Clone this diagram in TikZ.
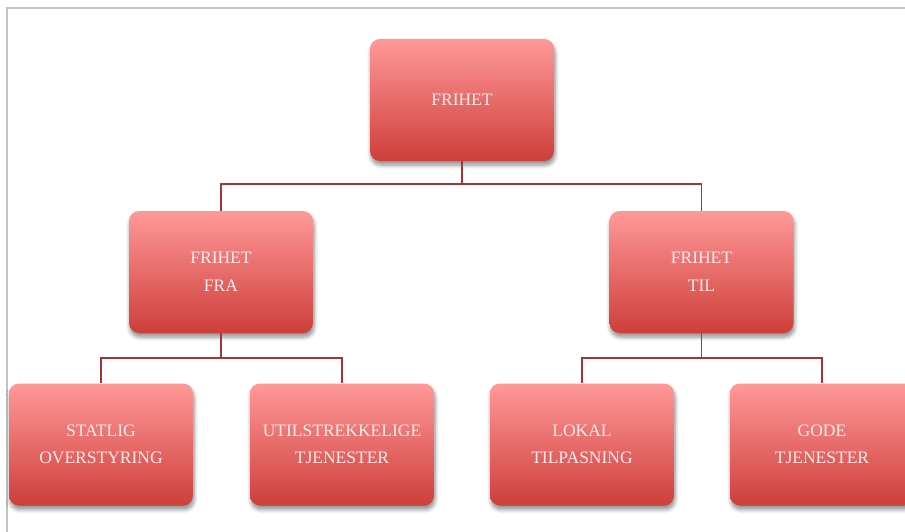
\documentclass[tikz,border=0pt]{standalone}
\usepackage{fontspec}
\setmainfont{Liberation Serif}
\usetikzlibrary{shadows.blur}
\definecolor{boxtop}{RGB}{255,153,153}
\definecolor{boxbot}{RGB}{206,62,58}
\definecolor{linkred}{RGB}{165,52,52}
\definecolor{frameg}{RGB}{195,195,195}
\definecolor{txt}{RGB}{255,236,236}
\begin{document}
\begin{tikzpicture}[x=1pt,y=-1pt,
  box/.style={rectangle, rounded corners=10pt, minimum width=184pt, minimum height=122pt,
    inner sep=0pt, top color=boxtop, bottom color=boxbot, draw=none,
    text=txt, align=center, font=\fontsize{17.5}{27.5}\selectfont,
    blur shadow={shadow xshift=1pt, shadow yshift=-4pt, shadow opacity=45, shadow blur steps=6, shadow blur radius=4pt}},
  link/.style={draw=linkred, line width=1.5pt}]
\useasboundingbox (0,0) rectangle (905,532);
\draw[frameg, line width=1.5pt] (905,8) -- (7,8) -- (7,532);
\node[box] (root) at (462,100) {FRIHET};
\node[box] (fra) at (221,272) {FRIHET\\FRA};
\node[box] (til) at (701.5,272) {FRIHET\\TIL};
\node[box] (stat) at (101,444.5) {STATLIG\\OVERSTYRING};
\node[box] (util) at (342,444.5) {UTILSTREKKELIGE\\TJENESTER};
\node[box] (lok) at (582,444.5) {LOKAL\\TILPASNING};
\node[box] (gode) at (822,444.5) {GODE\\TJENESTER};
\draw[link] (root.south) -- ++(0,23) -| (fra.north);
\draw[link] (root.south) -- ++(0,23) -| (til.north);
\draw[link] (fra.south) -- ++(0,25) -| (stat.north);
\draw[link] (fra.south) -- ++(0,25) -| (util.north);
\draw[link] (til.south) -- ++(0,25) -| (lok.north);
\draw[link] (til.south) -- ++(0,25) -| (gode.north);
\end{tikzpicture}
\end{document}
